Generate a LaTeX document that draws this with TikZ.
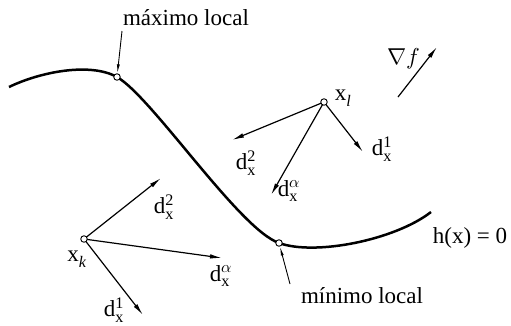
\documentclass[tikz,border=0pt]{standalone}
\usepackage{fontspec}
\setmainfont{Liberation Serif}
\usepackage{unicode-math}
\setmathfont{Latin Modern Math}
\usetikzlibrary{arrows.meta}
\tikzset{
  vec/.style={line width=1.2pt,-{Latex[length=12pt,width=4.5pt]}},
  lead/.style={line width=0.9pt,-{Latex[length=9pt,width=3pt]}},
  pt/.style={circle,draw,fill=white,line width=0.9pt,inner sep=0pt,minimum size=6.5pt},
  lbl/.style={font=\fontsize{23}{25}\selectfont,inner sep=0pt},
}
\newcommand{\dx}[1]{d$^{\textrm{#1}}_{\textrm{x}}$}
\begin{document}
\begin{tikzpicture}[x=1pt,y=-1pt]
\useasboundingbox (0,0) rectangle (511,325);
% curve
\draw[line width=2.5pt] (9,87) .. controls (40,72) and (90,62) .. (117,77)
  .. controls (152,97) and (239,229) .. (279,243)
  .. controls (315,256) and (395,240) .. (431,212);
\node[pt] (max) at (117,77) {};
\node[pt] (min) at (279,243) {};
\node[lbl] (maxl) at (186,18) {máximo local};
\node[lbl] (minl) at (362,296) {mínimo local};
\node[lbl] (h) at (470,238) {h(x) = 0};
\coordinate (maxs) at (122,31);
\coordinate (mins) at (290,284);
\draw[lead] (maxs) -- (max);
\draw[lead] (mins) -- (min);
% gradient
\node[lbl] (gf) at (404,59) {$\nabla f$};
\coordinate (g0) at (398,97);
\coordinate (g1) at (437,47);
\draw[vec] (g0) -- (g1);
% x_l
\coordinate (xl) at (324,102);
\coordinate (l1) at (363,152);
\coordinate (l2) at (232,140);
\coordinate (la) at (271,195);
\draw[vec] (xl) -- (l1);
\draw[vec] (xl) -- (l2);
\draw[vec] (xl) -- (la);
\node[pt] (xln) at (xl) {};
\node[lbl] (xll) at (343,98) {x$_{\textit{l}}$};
\node[lbl] (dl1) at (382,149) {\dx{1}};
\node[lbl] (dl2) at (246,163) {\dx{2}};
\node[lbl] (dla) at (289,191) {\dx{$\alpha$}};
% x_k
\coordinate (xk) at (84,239);
\coordinate (k2) at (161,178);
\coordinate (ka) at (222,258);
\coordinate (k1) at (143,315);
\draw[vec] (xk) -- (k2);
\draw[vec] (xk) -- (ka);
\draw[vec] (xk) -- (k1);
\node[pt] (xkn) at (xk) {};
\node[lbl] (xkl) at (77,259) {x$_{\textit{k}}$};
\node[lbl] (dk2) at (164,207) {\dx{2}};
\node[lbl] (dka) at (221,276) {\dx{$\alpha$}};
\node[lbl] (dk1) at (114,310) {\dx{1}};
\end{tikzpicture}
\end{document}
